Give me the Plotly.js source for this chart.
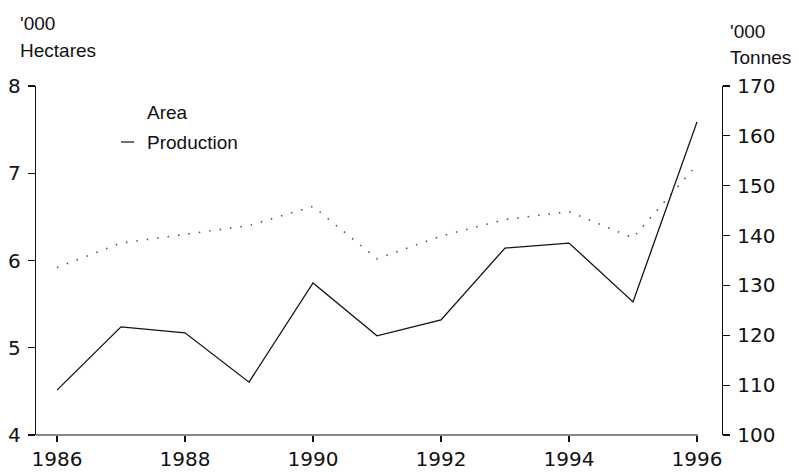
<!DOCTYPE html>
<html>
<head>
<meta charset="utf-8">
<script src="https://cdn.plot.ly/plotly-3.0.1.min.js"></script>
<style>html,body{margin:0;padding:0;background:#fff;}#chart{width:799px;height:473px;}</style>
</head>
<body>
<div id="chart"></div>
<script>
// Data
const years = [1986, 1987, 1988, 1989, 1990, 1991, 1992, 1993, 1994, 1995, 1996];
const areaThousandHa = [5.92, 6.2, 6.3, 6.4, 6.62, 6.02, 6.28, 6.47, 6.56, 6.26, 7.1];
const productionThousandT = [109.0, 121.7, 120.5, 110.6, 130.5, 119.9, 123.1, 137.5, 138.5, 126.7, 162.8];
const xTickVals = [1986, 1988, 1990, 1992, 1994, 1996];
const leftTickVals = [4, 5, 6, 7, 8];
const rightTickVals = [100, 110, 120, 130, 140, 150, 160, 170];
const seriesNames = ["Area", "Production"];

const tickFont = {family: "DejaVu Sans", size: 20, color: "#111"};
const textFont = {family: "Liberation Sans, Arial, sans-serif", size: 19, color: "#111"};

const traces = [
  {x: years, y: areaThousandHa, name: seriesNames[0], type: "scatter", mode: "lines",
   line: {color: "#555", width: 1.6, dash: "1.5px,9px"}, yaxis: "y", showlegend: false},
  {x: years, y: productionThousandT, name: seriesNames[1], type: "scatter", mode: "lines",
   line: {color: "#111", width: 1.3}, yaxis: "y2", showlegend: false}
];

const layout = {
  width: 799, height: 473,
  margin: {l: 36, r: 77, t: 86, b: 38},
  paper_bgcolor: "#fff", plot_bgcolor: "#fff",
  showlegend: false,
  xaxis: {
    range: [1985.672, 1996.39], tickvals: xTickVals, ticktext: xTickVals.map(String),
    showgrid: false, zeroline: false, showline: false,
    ticks: "outside", ticklen: 6, tickcolor: "#111", tickwidth: 1.2,
    tickfont: tickFont
  },
  yaxis: {
    range: [4, 8], tickvals: leftTickVals, showgrid: false, zeroline: false,
    showline: true, linecolor: "#111", linewidth: 1.2,
    ticks: "outside", ticklen: 7, tickcolor: "#111", tickwidth: 1.2,
    tickfont: tickFont, ticklabelstandoff: 3
  },
  yaxis2: {
    range: [100, 170], tickvals: rightTickVals, overlaying: "y", side: "right",
    showgrid: false, zeroline: false,
    showline: true, linecolor: "#111", linewidth: 1.2,
    ticks: "outside", ticklen: 7, tickcolor: "#111", tickwidth: 1.2,
    tickfont: tickFont, ticklabelstandoff: 3
  },
  shapes: [
    {type: "line", xref: "paper", yref: "paper", x0: 0, x1: (698 - 36) / 686, y0: 0, y1: 0,
     line: {color: "#111", width: 1.2}},
    {type: "line", xref: "paper", yref: "paper", x0: (121 - 36) / 686, x1: (134 - 36) / 686,
     y0: (435 - 142) / 349, y1: (435 - 142) / 349, line: {color: "#111", width: 1.2}}
  ],
  annotations: [
    {text: "'000", xref: "paper", yref: "paper", x: (18 - 36) / 686, y: (435 - 24) / 349,
     xanchor: "left", yanchor: "middle", showarrow: false, font: textFont},
    {text: "Hectares", xref: "paper", yref: "paper", x: (18 - 36) / 686, y: (435 - 51) / 349,
     xanchor: "left", yanchor: "middle", showarrow: false, font: textFont},
    {text: "'000", xref: "paper", yref: "paper", x: (728 - 36) / 686, y: (435 - 31) / 349,
     xanchor: "left", yanchor: "middle", showarrow: false, font: textFont},
    {text: "Tonnes", xref: "paper", yref: "paper", x: (728 - 36) / 686, y: (435 - 58) / 349,
     xanchor: "left", yanchor: "middle", showarrow: false, font: textFont},
    {text: seriesNames[0], xref: "paper", yref: "paper", x: (145 - 36) / 686, y: (435 - 113) / 349,
     xanchor: "left", yanchor: "middle", showarrow: false, font: textFont},
    {text: seriesNames[1], xref: "paper", yref: "paper", x: (145 - 36) / 686, y: (435 - 142) / 349,
     xanchor: "left", yanchor: "middle", showarrow: false, font: textFont}
  ]
};

Plotly.newPlot("chart", traces, layout, {staticPlot: true, displayModeBar: false});
</script>
</body>
</html>
